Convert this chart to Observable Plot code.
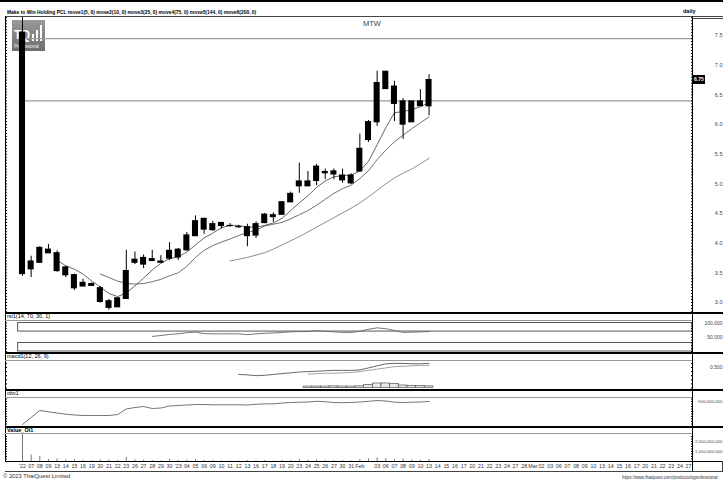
<!DOCTYPE html>
<html><head><meta charset="utf-8">
<script src="https://cdn.jsdelivr.net/npm/d3@7"></script>
<script src="https://cdn.jsdelivr.net/npm/@observablehq/plot@0.6"></script>
<style>
html,body{margin:0;padding:0;background:#fff;}
#chart{position:relative;width:723px;height:481px;overflow:hidden;font-family:"Liberation Sans Narrow","Liberation Sans",Arial,sans-serif;color:#000;background:#fff;}
.ln{position:absolute;}
.tx{position:absolute;white-space:nowrap;line-height:1;}
.pl{position:absolute;left:0;}
</style></head><body><div id="chart"></div>
<script>
// ---------- data ----------
const dateLabels = [
  "'22","07","08","09","13","14","15","16","19","20","21","22","23","26","27","28","29","30",
  "'23","04","05","06","09","10","11","12","13","16","17","18","19","20","23","24","25","26","27","30","31",
  "Feb","","03","06","07","08","09","10","13","14","15","16","17","20","21","22","23","24","27","28",
  "Mar","02","03","06","07","08","09","10","13","14","15","16","17","20","21","22","23","24","27"
];
const opens  = [7.55,3.56,3.67,3.89,3.83,3.59,3.46,3.27,3.31,3.24, 3.02,2.92,3.06,3.67,3.64,3.73,3.69,3.74,3.89,3.88, 4.12,4.41,4.22,4.34,4.29,4.27,4.27,4.13,4.34,4.47, 4.48,4.69,4.96,5.04,5.05,5.20,5.16,5.14,5.14,5.21, 5.74,6.04,6.89,6.64,6.39,6.04,6.31,6.31];
const highs  = [8.20,3.78,3.94,3.98,3.87,3.61,3.48,3.39,3.33,3.27, 3.05,3.08,3.88,3.85,3.80,3.88,3.79,4.01,3.91,4.18, 4.46,4.41,4.37,4.34,4.33,4.30,4.32,4.36,4.50,4.51, 4.70,4.86,5.35,5.21,5.33,5.25,5.25,5.25,5.17,5.84, 6.07,6.90,6.90,6.73,6.44,6.39,6.59,6.84];
const lows   = [3.44,3.42,3.66,3.83,3.51,3.42,3.20,3.27,3.28,2.99, 2.87,2.92,3.05,3.64,3.57,3.70,3.67,3.71,3.71,3.87, 4.11,4.15,4.20,4.24,4.27,4.25,3.94,4.08,4.33,4.35, 4.47,4.69,4.84,4.96,4.97,5.07,5.07,5.01,4.99,5.20, 5.70,5.97,6.59,6.05,5.75,6.04,6.31,6.15];
const closes = [3.48,3.69,3.92,3.83,3.53,3.46,3.24,3.33,3.28,3.01, 2.91,3.07,3.53,3.72,3.75,3.70,3.67,3.87,3.76,4.13, 4.37,4.23,4.32,4.29,4.29,4.27,4.12,4.32,4.48,4.44, 4.69,4.83,5.04,4.96,5.29,5.18,5.21,5.06,5.01,5.59, 6.04,6.70,6.60,6.35,6.00,6.39,6.39,6.75];

const ma5Start = 4;
const ma5 = [3.71,3.62,3.56,3.48,3.36,3.26,3.15,3.10,3.16,3.28,3.41,3.55,3.66,3.74,3.77,3.85,3.97,4.09,4.17,4.26,4.30,4.30,4.27,4.27,4.30,4.34,4.42,4.55,4.68,4.80,4.94,5.05,5.12,5.14,5.15,5.22,5.38,5.66,5.95,6.20,6.22,6.25,6.30,6.38];
const ma10Start = 9;
const ma10 = [3.48,3.42,3.36,3.32,3.31,3.32,3.35,3.39,3.45,3.50,3.61,3.76,3.88,3.96,4.02,4.07,4.13,4.18,4.22,4.29,4.32,4.35,4.41,4.48,4.55,4.64,4.74,4.84,4.92,4.98,5.09,5.22,5.41,5.57,5.71,5.82,5.93,6.03,6.13];
const ma25Start = 24;
const ma25 = [3.70,3.73,3.76,3.80,3.84,3.90,3.97,4.04,4.11,4.19,4.27,4.35,4.43,4.51,4.59,4.68,4.78,4.89,5.00,5.10,5.18,5.25,5.34,5.43];
const levels = [7.45, 6.40];
const priceTicks = [3.0,3.5,4.0,4.5,5.0,5.5,6.0,6.5,7.0,7.5];

const rsiStart = 15;
const rsi = [53,56,60,62,66,68,63,62,62,62,62,59,62,64,65,67,69,70,70,73,71,69,67,67,71,78,83,80,74,67,68,69,70];
const rsiZones = [{lo:70,hi:100},{lo:0,hi:30}];
const rsiTicks = [100,50];

const macdStart = 25;
const macd = [0.33,0.32,0.30,0.31,0.33,0.35,0.37,0.39,0.40,0.41,0.42,0.43,0.43,0.43,0.44,0.49,0.54,0.59,0.60,0.60,0.59,0.59,0.60];
const signalStart = 33;
const signal = [0.34,0.35,0.36,0.36,0.37,0.38,0.40,0.43,0.46,0.49,0.52,0.53,0.54,0.55,0.55];
const hist = [0.035,0.035,0.035,0.04,0.035,0.035,0.04,0.07,0.11,0.11,0.10,0.06,0.05,0.05,0.04];
const macdTicks = [0.5];

// OBV in millions of shares
const obv = [40,180,320,294,270,246,230,220,220,220, 220,240,350,380,400,360,370,410,420,430, 440,440,434,434,434,434,430,444,452,454, 468,480,486,490,504,496,480,476,480,490, 504,520,510,486,480,486,490,500];
const obvTicks = [500];
// traded value in billions of baht
const tradeValue = [5,0.65,0.5,0.2,0.25,0.15,0.2,0.12,0.08,0.15, 0.15,0.1,0.4,0.15,0.12,0.1,0.06,0.22,0.1,0.15, 0.2,0.1,0.08,0.06,0.05,0.05,0.1,0.08,0.1,0.05, 0.1,0.1,0.2,0.12,0.15,0.08,0.08,0.08,0.06,0.2, 0.25,0.35,0.3,0.2,0.25,0.15,0.12,0.2];
const valueTicks = [1,2];

// ---------- build ----------
const W = 723, ML = 5, MR = 31;
const xDomain = [-1.965, 77.457];
const candles = closes.map((c,i) => ({i, open: opens[i], high: highs[i], low: lows[i], close: c}));
const series = (arr, start) => arr.map((v,k) => ({i: k + start, v}));
const FONT = '"Liberation Sans Narrow","Liberation Sans",Arial,sans-serif';
const base = {width: W, marginLeft: ML, marginRight: MR, marginTop: 0, marginBottom: 0,
  style: {background: "transparent", fontFamily: FONT, fontSize: "5.5px", color: "#000", overflow: "visible"}};

const chart = document.getElementById("chart");
function add(el, top){ el.classList.add("pl"); el.style.top = top + "px"; chart.appendChild(el); return el; }
function line(l,t,w,h,c){ const d=document.createElement("div"); d.className="ln"; Object.assign(d.style,{left:l+"px",top:t+"px",width:w+"px",height:h+"px",background:c}); chart.appendChild(d); }
function text(s,l,t,css){ const d=document.createElement("div"); d.className="tx"; d.textContent=s; Object.assign(d.style,{left:l+"px",top:t+"px"},css||{}); chart.appendChild(d); return d; }
function minor(lo, hi, step){ const out=[]; for(let k=Math.ceil(lo/step); k*step<=hi; k++) out.push(+(k*step).toFixed(6)); return out; }
const edgeTicks = (dom, step) => [
  Plot.axisY({anchor:"right", ticks: minor(dom[0], dom[1], step), tickSize: 2, dx: -2, tickFormat: () => "", label: null, stroke:"#000"}),
  Plot.axisY({anchor:"left", ticks: minor(dom[0], dom[1], step), tickSize: 2, dx: 2, tickFormat: () => "", label: null, stroke:"#000"})
];
const rightLabels = (ticks, fmt, size) => Plot.axisY({anchor:"right", ticks, tickSize: 0, tickPadding: 0, dx: 30, textAnchor:"end", tickFormat: fmt, label: null, fill:"#444", fontSize: size});

// logo (under plots)
const logo = document.createElement("div");
Object.assign(logo.style,{position:"absolute",left:"12px",top:"20px",width:"33px",height:"31px",background:"linear-gradient(#9a9a9a,#6e6e6e)"});
logo.innerHTML = '<div style="position:absolute;left:2px;top:8px;color:#fff;font:bold 12px Arial,sans-serif;letter-spacing:-0.5px">TQ</div>'+
 '<div style="position:absolute;left:20px;top:14px;width:2px;height:7px;background:#fff"></div>'+
 '<div style="position:absolute;left:24px;top:10px;width:2px;height:11px;background:#fff"></div>'+
 '<div style="position:absolute;left:28px;top:5px;width:2px;height:16px;background:#fff"></div>'+
 '<div style="position:absolute;left:2px;top:24px;color:#eee;font:4.5px Arial,sans-serif">Professional</div>';
chart.appendChild(logo);

// price panel
const yPrice = [2.831, 7.806];
const pricePlot = Plot.plot({...base, height: 295,
  x: {domain: xDomain, axis: null},
  y: {domain: yPrice, axis: null},
  marks: [
    Plot.ruleY(levels, {x1: 0, x2: xDomain[1], stroke: "#9a9a9a", strokeWidth: 1.3}),
    ...edgeTicks(yPrice, 0.05),
    rightLabels(priceTicks, d => d.toFixed(1), 5.5),
    Plot.line(series(ma25, ma25Start), {x:"i", y:"v", stroke:"#808080", strokeWidth: 0.9}),
    Plot.line(series(ma10, ma10Start), {x:"i", y:"v", stroke:"#606060", strokeWidth: 0.9}),
    Plot.line(series(ma5, ma5Start), {x:"i", y:"v", stroke:"#555", strokeWidth: 0.9}),
    Plot.ruleX(candles, {x:"i", y1:"low", y2:"high", stroke:"#000", strokeWidth: 1, clip: true}),
    Plot.rect(candles, {x1: d => d.i - 0.5, x2: d => d.i + 0.5, y1:"open", y2:"close", fill:"#000", insetLeft: 1.3, insetRight: 1.3, insetTop: -0.6, insetBottom: -0.6, clip: true})
  ]});
add(pricePlot, 17);

// rsi
const yRsi = [-3.5, 105.3];
add(Plot.plot({...base, height: 31,
  x: {domain: xDomain, axis: null},
  y: {domain: yRsi, axis: null},
  marks: [
    Plot.rect(rsiZones, {x1: -0.5, x2: xDomain[1], y1:"lo", y2:"hi", fill:"none", stroke:"#444", strokeWidth: 0.9}),
    ...edgeTicks(yRsi, 10),
    rightLabels(rsiTicks, d3.format(".3f"), 5),
    Plot.line(series(rsi, rsiStart), {x:"i", y:"v", stroke:"#666", strokeWidth: 0.9})
  ]}), 321);

// macd
const yMacd = [-0.037, 0.646];
add(Plot.plot({...base, height: 28,
  x: {domain: xDomain, axis: null},
  y: {domain: yMacd, axis: null},
  marks: [
    ...edgeTicks(yMacd, 0.1),
    rightLabels(macdTicks, d3.format(".3f"), 5),
    Plot.rect(series(hist, signalStart), {x1: d => d.i - 0.5, x2: d => d.i + 0.5, y1: 0, y2: "v", fill:"#e8e8e8", stroke:"#555", strokeWidth: 0.7}),
    Plot.line(series(signal, signalStart), {x:"i", y:"v", stroke:"#999", strokeWidth: 0.9}),
    Plot.line(series(macd, macdStart), {x:"i", y:"v", stroke:"#555", strokeWidth: 0.9})
  ]}), 361);

// obv
const yObv = [0, 560];
add(Plot.plot({...base, height: 28,
  x: {domain: xDomain, axis: null},
  y: {domain: yObv, axis: null},
  marks: [
    ...edgeTicks(yObv, 50),
    rightLabels(obvTicks, d => d3.format(",")(d*1e6), 4.4),
    Plot.line(obv.map((v,i)=>({i,v})), {x:"i", y:"v", stroke:"#666", strokeWidth: 0.9})
  ]}), 398);

// value + date axis
const yVal = [0, 2.7];
add(Plot.plot({...base, height: 37, marginBottom: 10,
  x: {domain: xDomain},
  y: {domain: yVal, axis: null},
  marks: [
    ...edgeTicks(yVal, 0.25),
    rightLabels(valueTicks, d => d3.format(",")(d*1e9), 4.3),
    Plot.ruleX(tradeValue.map((v,i)=>({i,v})), {x:"i", y1: 0, y2:"v", stroke:"#777", strokeWidth: 1, clip: true}),
    Plot.axisX({ticks: dateLabels.map((d,i)=>i), tickFormat: i => dateLabels[i], tickSize: 0, tickPadding: 3, label: null, fill:"#333", fontSize: 5.3})
  ]}), 434);

// frame lines
line(0,0,723,2,"#000");
line(5,16,718,1,"#444");
line(692,18,31,1,"#444");
line(692,16,1,455,"#000");
line(5,16,1,446,"#000");
[312,352,389,426].forEach(y => line(5,y,718,2,"#000"));
[320,360,397,433].forEach(y => line(5,y,687,1,"#999"));
line(5,461,718,1,"#000");
line(5,471,718,1,"#444");
line(722,461,1,10,"#444");

// texts
text("Make to Win Holding PCL move1(5, 0) move2(10, 0) move3(25, 0) move4(75, 0) move5(144, 0) move6(200, 0)", 7, 9, {fontSize:"6px", fontWeight:"bold", transform:"scaleX(0.82)", transformOrigin:"0 0"});
text("daily", 683, 9, {fontSize:"5.5px", fontWeight:"bold"});
text("MTW", 363, 20, {fontSize:"7.5px", color:"#444"});
text("rsi1(14, 70, 30, 1)", 7, 314, {fontSize:"5.5px"});
text("macd1(12, 26, 9)", 7, 354, {fontSize:"5.5px"});
text("obv1", 7, 391, {fontSize:"5.5px"});
text("Value_Ol1", 7, 428, {fontSize:"5.5px", fontWeight:"bold"});
text("© 2023 ThaiQuest Limited", 3, 474, {fontSize:"5.8px", color:"#333"});
text("https://www.thaiquest.com/products/tqprofessional", 622, 475, {fontSize:"5px", color:"#333", transform:"scaleX(0.86)", transformOrigin:"0 0"});

// last price tag
const lastClose = closes[closes.length-1];
const yLast = 17 + pricePlot.scale("y").apply(lastClose);
text(lastClose.toFixed(2), 693, yLast - 4.5, {fontSize:"5px", color:"#fff", background:"#000", padding:"2px 1px", fontWeight:"bold"});
</script></body></html>
